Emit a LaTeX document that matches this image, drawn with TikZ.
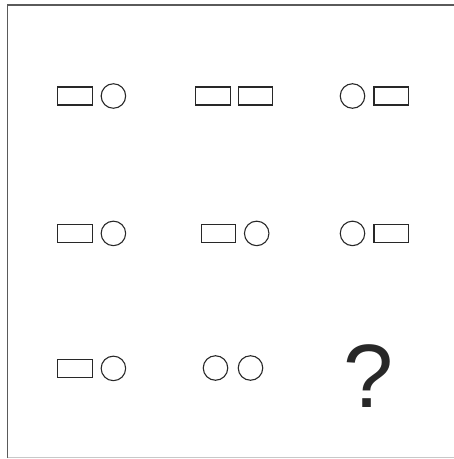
\documentclass[tikz,border=0pt]{standalone}
\usepackage{fontspec}
\setmainfont{Liberation Sans}
\usepackage{tikz}
\definecolor{InkGray}{RGB}{40,40,40}
\definecolor{FrameGray}{RGB}{90,90,90}
\definecolor{RuleGray}{RGB}{200,200,200}

\begin{document}
\begin{tikzpicture}[
  x=1pt, y=-1pt,
  bar/.style={
    draw=InkGray,
    rectangle,
    minimum width=34.5pt,
    minimum height=18pt,
    inner sep=0pt,
    line width=1.1pt
  },
  ring/.style={
    draw=InkGray,
    circle,
    minimum size=24.5pt,
    inner sep=0pt,
    line width=1.1pt
  },
  font=\fontsize{90}{90}\selectfont
]
\useasboundingbox (0,0) rectangle (454,459);
\draw[FrameGray, line width=1.2pt] (7.5,458) -- (7.5,5) -- (454,5);
\draw[RuleGray, line width=1pt] (7.5,457.5) -- (454,457.5);

% row 1
\node[bar] (r1a) at (75,96) {};
\node[ring] (c1a) at (113.4,96) {};
\node[bar] (r1b) at (212.8,96) {};
\node[bar] (r1c) at (255.5,96) {};
\node[ring] (c1c) at (352.5,96) {};
\node[bar] (r1d) at (391.2,96) {};

% row 2
\node[bar] (r2a) at (75,233.4) {};
\node[ring] (c2a) at (113.4,233.4) {};
\node[bar] (r2b) at (218.4,233.4) {};
\node[ring] (c2b) at (256.7,233.4) {};
\node[ring] (c2c) at (352.5,233.4) {};
\node[bar] (r2d) at (391.2,233.4) {};

% row 3
\node[bar] (r3a) at (75,368.4) {};
\node[ring] (c3a) at (113.4,368.4) {};
\node[ring] (c3b) at (215.5,368) {};
\node[ring] (c3c) at (250.5,368) {};
\node[anchor=base, inner sep=0pt, text=InkGray] (ask) at (369,407.7) {?};
\end{tikzpicture}
\end{document}
